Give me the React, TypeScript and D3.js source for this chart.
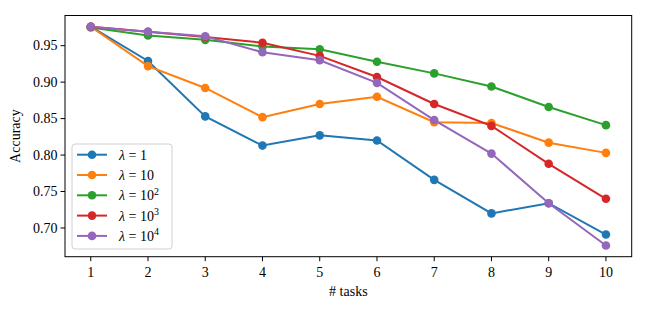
import React from "react";
import * as d3 from "d3";

const tasks = [1, 2, 3, 4, 5, 6, 7, 8, 9, 10];
const lambda1 = [0.976, 0.929, 0.853, 0.813, 0.827, 0.82, 0.766, 0.72, 0.734, 0.691];
const lambda10 = [0.976, 0.922, 0.892, 0.852, 0.87, 0.88, 0.845, 0.844, 0.817, 0.803];
const lambda100 = [0.975, 0.964, 0.958, 0.949, 0.945, 0.928, 0.912, 0.894, 0.866, 0.841];
const lambda1000 = [0.976, 0.969, 0.962, 0.954, 0.936, 0.907, 0.87, 0.84, 0.788, 0.74];
const lambda10000 = [0.976, 0.969, 0.963, 0.941, 0.93, 0.899, 0.848, 0.802, 0.734, 0.676];
const yTicks = [0.7, 0.75, 0.8, 0.85, 0.9, 0.95];

const seriesList = [
  { exp: "", base: "1", values: lambda1, color: "#1f77b4" },
  { exp: "", base: "10", values: lambda10, color: "#ff7f0e" },
  { exp: "2", base: "10", values: lambda100, color: "#2ca02c" },
  { exp: "3", base: "10", values: lambda1000, color: "#d62728" },
  { exp: "4", base: "10", values: lambda10000, color: "#9467bd" },
];

const W = 647;
const H = 309;
const M = { left: 65, top: 15.5, right: 631.7, bottom: 256.7 };
const FONT = "'Liberation Serif', 'DejaVu Serif', serif";

export default function App() {
  const x = d3.scaleLinear().domain([0.55, 10.45]).range([M.left, M.right]);
  const y = d3.scaleLinear().domain([0.6606, 0.9914]).range([M.bottom, M.top]);
  const line = d3
    .line<number>()
    .x((_, i) => x(tasks[i]))
    .y((d) => y(d));

  const legX = 72;
  const legY = 144;
  const legW = 100;
  const legH = 105;

  return (
    <svg
      width={W}
      height={H}
      style={{ position: "absolute", left: 0, top: 0, background: "#fff" }}
      fontFamily={FONT}
    >
      <rect x={0} y={0} width={W} height={H} fill="#fff" />
      {seriesList.map((s, si) => (
        <g key={si}>
          <path d={line(s.values) || ""} fill="none" stroke={s.color} strokeWidth={2} />
          {s.values.map((v, i) => (
            <circle key={i} cx={x(tasks[i])} cy={y(v)} r={4.3} fill={s.color} />
          ))}
        </g>
      ))}
      <rect
        x={M.left}
        y={M.top}
        width={M.right - M.left}
        height={M.bottom - M.top}
        fill="none"
        stroke="#000"
        strokeWidth={1}
      />
      {tasks.map((t) => (
        <g key={t}>
          <line x1={x(t)} x2={x(t)} y1={M.bottom} y2={M.bottom + 4.5} stroke="#000" strokeWidth={1} />
          <text x={x(t)} y={M.bottom + 20} textAnchor="middle" fontSize={14}>
            {t}
          </text>
        </g>
      ))}
      {yTicks.map((t) => (
        <g key={t}>
          <line x1={M.left - 4.5} x2={M.left} y1={y(t)} y2={y(t)} stroke="#000" strokeWidth={1} />
          <text x={M.left - 7.5} y={y(t) + 4.8} textAnchor="end" fontSize={14}>
            {t.toFixed(2)}
          </text>
        </g>
      ))}
      <text x={(M.left + M.right) / 2} y={296} textAnchor="middle" fontSize={14}>
        # tasks
      </text>
      <text
        transform={`translate(20, ${(M.top + M.bottom) / 2}) rotate(-90)`}
        textAnchor="middle"
        fontSize={14}
      >
        Accuracy
      </text>
      <rect
        x={legX}
        y={legY}
        width={legW}
        height={legH}
        rx={3}
        fill="#fff"
        fillOpacity={0.8}
        stroke="#d0d0d0"
        strokeWidth={1}
      />
      {seriesList.map((s, i) => {
        const cy = legY + 10.7 + i * 20.3;
        return (
          <g key={i}>
            <line x1={77} x2={107} y1={cy} y2={cy} stroke={s.color} strokeWidth={2} />
            <circle cx={92} cy={cy} r={4.3} fill={s.color} />
            <text x={119} y={cy + 5} fontSize={14}>
              <tspan fontStyle="italic">λ</tspan>
              <tspan> = {s.base}</tspan>
              {s.exp ? (
                <tspan fontSize={10} dy={-5.5}>
                  {s.exp}
                </tspan>
              ) : null}
            </text>
          </g>
        );
      })}
    </svg>
  );
}
